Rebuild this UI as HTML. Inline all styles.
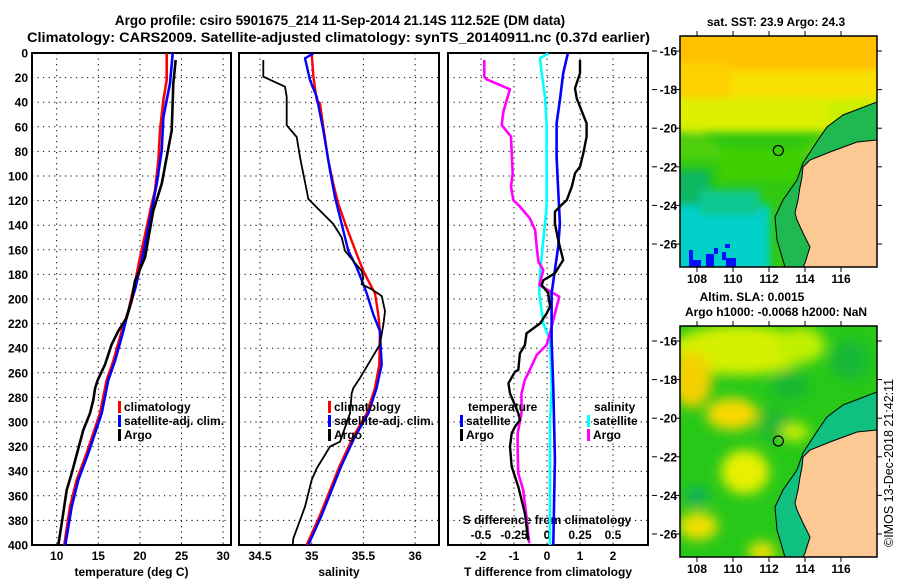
<!DOCTYPE html>
<html><head><meta charset="utf-8"><style>
html,body{margin:0;padding:0;background:#fff;}
svg{display:block;font-family:"Liberation Sans",Arial,sans-serif;}
.t{font-weight:bold;font-size:12px;fill:#000;}
.ti{font-weight:bold;font-size:13.5px;fill:#000;}
</style></head><body>
<svg id="chart" width="900" height="580" viewBox="0 0 900 580" xmlns="http://www.w3.org/2000/svg">
<defs>
<filter id="bl" x="-20%" y="-20%" width="140%" height="140%"><feGaussianBlur stdDeviation="6"/></filter>
<filter id="bl2" x="-20%" y="-20%" width="140%" height="140%"><feGaussianBlur stdDeviation="4"/></filter>
<clipPath id="cm1"><rect x="680" y="36" width="197" height="231"/></clipPath>
<clipPath id="cm2"><rect x="680" y="326" width="197" height="231"/></clipPath>
</defs>
<text class="ti" x="340" y="25" text-anchor="middle">Argo profile: csiro 5901675_214 11-Sep-2014 21.14S 112.52E (DM data)</text>
<text class="ti" x="27" y="42" textLength="623" lengthAdjust="spacingAndGlyphs">Climatology: CARS2009. Satellite-adjusted climatology: synTS_20140911.nc (0.37d earlier)</text>

<!-- top map -->
<g>
<g clip-path="url(#cm1)">
<rect x="680" y="36" width="197" height="231" fill="#30c810"/>
<g filter="url(#bl2)">
<rect x="670" y="26" width="220" height="50" fill="#ffc000"/>
<rect x="670" y="70" width="220" height="30" fill="#f8e000"/>
<rect x="670" y="62" width="60" height="40" fill="#ffd000"/>
<rect x="670" y="98" width="220" height="34" fill="#dcf000"/>
<polygon points="670,130 700,132 720,148 760,152 800,150 830,130 890,110 890,160 670,160" fill="#50d010"/>
<rect x="720" y="150" width="80" height="30" fill="#40d000"/>
<rect x="670" y="170" width="40" height="40" fill="#10b860"/>
<rect x="670" y="205" width="100" height="70" fill="#00d0c8"/>
<rect x="700" y="190" width="60" height="25" fill="#10c890"/>
<rect x="830" y="100" width="60" height="35" fill="#c8f000"/>
</g>
<rect x="689" y="250" width="4" height="17" fill="#0010ff"/>
<rect x="689" y="260" width="12" height="7" fill="#0010ff"/>
<rect x="706" y="254" width="8" height="13" fill="#0010ff"/>
<rect x="714" y="248" width="4" height="6" fill="#0010ff"/>
<rect x="725" y="244" width="5" height="4" fill="#0010ff"/>
<rect x="722" y="252" width="4" height="8" fill="#0010ff"/>
<rect x="726" y="258" width="10" height="9" fill="#0010ff"/>
<polygon points="877,102 843,115 827,127 818,140 803,163 797,180 783,200 775,217 777,240 785,267 803,267 805,263 810,247 803,233 797,220 795,213 798,200 800,187 802,177 803,167 810,160 830,152 857,142 877,140" fill="#20b850"/>
<polygon points="877,140 857,142 830,152 810,160 803,167 802,177 800,187 798,200 795,213 797,220 803,233 810,247 805,263 803,267 877,267" fill="#fcc894" stroke="#000" stroke-width="1"/>
<polyline points="877,102 843,115 827,127 818,140 803,163 797,180 783,200 775,217 777,240 785,267" fill="none" stroke="#000" stroke-width="1"/>
</g>
<rect x="680" y="36" width="197" height="231" fill="none" stroke="#000" stroke-width="1.5"/>
<circle cx="778.3" cy="150.5" r="5" fill="none" stroke="#000" stroke-width="1.2"/>
</g>
<text class="t" x="776" y="26" text-anchor="middle">sat. SST: 23.9 Argo: 24.3</text>

<!-- bottom map -->
<g>
<g clip-path="url(#cm2)">
<rect x="680" y="326" width="197" height="231" fill="#28c818"/>
<g filter="url(#bl)">
<ellipse cx="740" cy="350" rx="70" ry="25" fill="#d4f000"/>
<ellipse cx="800" cy="345" rx="25" ry="18" fill="#c0f000"/>
<ellipse cx="692" cy="380" rx="20" ry="28" fill="#f4d000"/>
<ellipse cx="732" cy="414" rx="26" ry="16" fill="#f8d800"/>
<ellipse cx="775" cy="425" rx="16" ry="18" fill="#20b830"/>
<ellipse cx="795" cy="432" rx="14" ry="9" fill="#c8f000"/>
<ellipse cx="745" cy="472" rx="24" ry="22" fill="#e8f000"/>
<ellipse cx="698" cy="526" rx="20" ry="14" fill="#f0e000"/>
<ellipse cx="762" cy="552" rx="14" ry="10" fill="#f0e000"/>
<ellipse cx="697" cy="496" rx="12" ry="9" fill="#10b060"/>
<ellipse cx="850" cy="360" rx="20" ry="20" fill="#18b838"/>
<ellipse cx="790" cy="385" rx="20" ry="14" fill="#18b830"/>
</g>
<polygon points="877,392 843,405 827,417 818,430 803,453 797,470 783,490 775,507 777,530 785,557 803,557 805,553 810,537 803,523 797,510 795,503 798,490 800,477 802,467 803,457 810,450 830,442 857,432 877,430" fill="#10c080"/>
<polygon points="877,430 857,432 830,442 810,450 803,457 802,467 800,477 798,490 795,503 797,510 803,523 810,537 805,553 803,557 877,557" fill="#fcc894" stroke="#000" stroke-width="1"/>
<polyline points="877,392 843,405 827,417 818,430 803,453 797,470 783,490 775,507 777,530 785,557" fill="none" stroke="#000" stroke-width="1"/>
</g>
<rect x="680" y="326" width="197" height="231" fill="none" stroke="#000" stroke-width="1.5"/>
<circle cx="778.3" cy="441" r="5" fill="none" stroke="#000" stroke-width="1.2"/>
</g>
<text class="t" x="752" y="301" text-anchor="middle">Altim. SLA: 0.0015</text>
<text class="t" x="776" y="316" text-anchor="middle">Argo h1000: -0.0068 h2000: NaN</text>
<text x="0" y="0" font-size="12.5" transform="translate(893,547) rotate(-90)">©IMOS 13-Dec-2018 21:42:11</text>
<g id="dyn"></g>
</svg>
<script>
// ---- data ----
const depthTicks = [0,20,40,60,80,100,120,140,160,180,200,220,240,260,280,300,320,340,360,380,400];
const tempTicks = [10,15,20,25,30];
const salTicks = [34.5,35,35.5,36];
const salTickLabels = ["34.5","35","35.5","36"];
const dTTicks = [-2,-1,0,1,2];
const dSTicks = [-0.5,-0.25,0,0.25,0.5];
const dSTickLabels = ["-0.5","-0.25","0","0.25","0.5"];
const lonTicks = [108,110,112,114,116];
const latTicks = [-16,-18,-20,-22,-24,-26];

const tempClimD = [0.3,22,38.4,62.9,87.3,111.8,122.7,141.8,166.3,182.6,192.1,209.8,226.1,250.6,265.9,292.9,325.4,347.1,368.9,400];
const tempClimV = [23.22,23.22,22.82,22.42,22.22,21.82,21.42,20.82,20.01,19.53,19.21,18.6,17.81,16.8,16.01,15.2,13.6,12.4,11.6,10.91];
const tempSatD = [0.3,24.7,52,79.2,106.4,141.8,169,192.1,209.8,226.1,250.6,265.9,292.9,325.4,347.1,368.9,400];
const tempSatV = [23.94,23.62,22.82,22.62,22.02,21.02,20.22,19.41,18.6,18.0,17.0,16.2,15.41,13.8,12.6,11.8,11.03];
const tempArgoD = [5.7,24.7,62.9,84.6,106.4,128.2,166.3,185.3,201.6,215.3,226.1,237,253.3,265.9,272.4,282.1,292.9,306.5,341.7,355.3,382.4,400];
const tempArgoV = [24.30,24.02,23.82,23.22,22.62,21.61,20.61,19.41,19.0,18.4,17.4,16.6,15.8,14.93,14.61,14.4,14.0,13.2,11.8,11.2,10.6,10.19];

const salClimD = [0.3,19.3,38.4,41.1,60.1,87.3,106.4,122.7,141.8,163.5,177.1,185.3,195.4,212.5,226.1,253.3,272.4,292.9,311.9,335,375.8,400];
const salClimV = [35.0,35.016,35.048,35.08,35.112,35.161,35.209,35.257,35.338,35.435,35.499,35.548,35.612,35.644,35.66,35.654,35.612,35.532,35.402,35.274,35.08,34.952];
const salSatD = [0.3,4.3,22,35.6,62.9,95.5,117.3,139,160.8,174.4,188,195.4,212.5,226.1,253.3,272.4,292.9,311.9,335,375.8,400];
const salSatV = [35.016,34.935,34.984,35.048,35.112,35.177,35.225,35.29,35.354,35.435,35.499,35.532,35.596,35.66,35.677,35.628,35.548,35.419,35.29,35.097,34.967];
const salArgoD = [5.7,19.3,27.4,35.6,58.8,68.3,84.6,98.2,111.8,118.6,125.5,139,150,160.8,169,177.1,182.6,188,192.1,197.6,209.8,220.7,237,250.6,264.2,272.4,276.7,292.9,316,320,337.7,347.1,368.9,394.8,400];
const salArgoV = [34.532,34.532,34.742,34.758,34.758,34.855,34.887,34.919,34.952,34.967,35.048,35.209,35.29,35.322,35.402,35.483,35.499,35.483,35.58,35.677,35.709,35.693,35.66,35.564,35.467,35.402,35.387,35.37,35.274,35.177,35.048,35.0,34.935,34.822,34.816];

const dTSatD = [0.3,16.5,38.2,57.2,84.3,111.4,138.5,157.5,176.4,195.4,233.3,272.6,330,400];
const dTSatV = [0.63,0.49,0.39,0.29,0.29,0.34,0.39,0.34,0.24,0.14,0.14,0.19,0.24,0.19];
const dTArgoD = [5.7,16.5,28.7,36.8,57.2,68,81.6,92.4,97.8,108.7,119.5,123.6,129,138.5,152,168.3,179.1,184.6,188.6,195.4,206.3,211.6,219.8,228,237.4,244.2,257.7,259.1,268.5,276.7,292.9,298.4,303.8,309.2,320,336.3,352.6,374.3,396];
const dTArgoV = [1.0,1.0,0.85,0.90,1.20,1.20,1.10,1.0,0.85,0.75,0.60,0.44,0.24,0.24,0.34,0.49,0.24,-0.11,-0.16,0.04,0.09,-0.01,-0.21,-0.62,-0.67,-0.82,-0.87,-0.97,-1.17,-1.12,-0.87,-0.82,-0.97,-1.07,-1.12,-1.07,-0.87,-0.67,-0.57];
const dSSatD = [0.3,4.3,16.5,35.6,57.2,97.8,124.9,152,179.1,195.4,219.8,233.3,272.6,300,400];
const dSSatV = [0.01,-0.053,-0.04,-0.015,-0.003,-0.003,-0.003,-0.028,-0.053,-0.058,-0.028,0.023,0.035,0.023,0.023];
const dSArgoD = [5.7,19.2,21.4,29.5,38.2,47.7,58.5,68,78.9,97.8,108.7,119.5,124.9,134.4,143.9,157.5,169.7,176.4,188.6,198.1,217,227.9,237.4,245.5,257.7,265.9,276.7,292.9,299.7,309.2,320,341.7,355.3,377,398.6];
const dSArgoV = [-0.475,-0.475,-0.458,-0.28,-0.305,-0.33,-0.343,-0.273,-0.268,-0.26,-0.273,-0.255,-0.205,-0.13,-0.09,-0.078,-0.065,-0.028,-0.058,0.093,0.048,0.023,-0.003,-0.078,-0.13,-0.168,-0.193,-0.193,-0.205,-0.223,-0.223,-0.218,-0.18,-0.155,-0.135];

// ---- scales ----
const Y0 = 53, Y1 = 545;
const yD = d => Y0 + d * (Y1 - Y0) / 400;
const xT = t => 56.7 + (t - 10) * 8.32;
const xS = s => 311.7 + (s - 35) * 103.4;
const xdT = t => 547 + t * 33;
const xdS = s => 547 + s * 132;
const mapX = lon => 697 + (lon - 108) * 18;
const mapY1 = lat => 51 + (-16 - lat) * 19.3;

const NS = "http://www.w3.org/2000/svg";
const root = document.getElementById("dyn");
function mk(tag, attrs, parent) {
  const e = document.createElementNS(NS, tag);
  for (const k in attrs) e.setAttribute(k, attrs[k]);
  (parent || root).appendChild(e);
  return e;
}
function txt(s, x, y, anchor, parent) {
  const e = mk("text", {x: x, y: y, "text-anchor": anchor || "middle", class: "t"}, parent);
  e.textContent = s;
  return e;
}

const panels = [
  {name: "temperature", x0: 32, x1: 231, gx: tempTicks.map(xT), lab: tempTicks.map(String), title: "temperature (deg C)"},
  {name: "salinity", x0: 239, x1: 439, gx: salTicks.map(xS), lab: salTickLabels, title: "salinity"},
  {name: "difference", x0: 448, x1: 648, gx: dTTicks.map(xdT), lab: dTTicks.map(String), title: "T difference from climatology"}
];

panels.forEach(p => {
  const g = mk("g", {});
  
  
  depthTicks.forEach((d, i) => {
    if (i > 0 && i < depthTicks.length - 1) {
      const l = mk("line", {x1: p.x0, x2: p.x1, y1: yD(d), y2: yD(d), stroke: "#000", "stroke-width": 1, "stroke-dasharray": "1.2,4.3"}, g);
      
      
    }
  });
  p.gx.forEach((x, i) => {
    const l = mk("line", {x1: x, x2: x, y1: Y0, y2: Y1, stroke: "#000", "stroke-width": 1, "stroke-dasharray": "1.2,4.3"}, g);
    
    
    const t = txt(p.lab[i], x, 560, "middle", g);
    
    
  });
  const fr = mk("rect", {x: p.x0, y: Y0, width: p.x1 - p.x0, height: Y1 - Y0, fill: "none", stroke: "#000", "stroke-width": 2}, g);
  
  
  const at = txt(p.title, (p.x0 + p.x1) / 2 + (p.name === "temperature" ? 0 : 0), 576, "middle", g);
  
  
});

depthTicks.forEach(d => {
  const t = txt(String(d), 28, yD(d) + 4.5, "end");
  
  
});

// S difference axis inside panel 3
dSTicks.forEach((s, i) => {
  const t = txt(dSTickLabels[i], xdS(s), 539, "middle");
  
  
});
const sdt = txt("S difference from climatology", 547, 524, "middle");



function series(D, V, xf, color, w, name) {
  const pts = D.map((d, i) => xf(V[i]).toFixed(1) + "," + yD(d).toFixed(1)).join(" ");
  const l = mk("polyline", {points: pts, fill: "none", stroke: color, "stroke-width": w, "stroke-linejoin": "round"});
  
  
}
series(tempClimD, tempClimV, xT, "#ff0000", 2.6, "temp-climatology-line");
series(tempSatD, tempSatV, xT, "#0000ff", 2.6, "temp-satellite-line");
series(tempArgoD, tempArgoV, xT, "#000", 2.6, "temp-argo-line");
series(salClimD, salClimV, xS, "#ff0000", 2.4, "sal-climatology-line");
series(salSatD, salSatV, xS, "#0000ff", 2.4, "sal-satellite-line");
series(salArgoD, salArgoV, xS, "#000", 1.8, "sal-argo-line");
series(dSSatD, dSSatV, xdS, "#00ffff", 2.6, "sdiff-satellite-line");
series(dSArgoD, dSArgoV, xdS, "#ff00ff", 2.6, "sdiff-argo-line");
series(dTSatD, dTSatV, xdT, "#0000ff", 2.6, "tdiff-satellite-line");
series(dTArgoD, dTArgoV, xdT, "#000", 2.4, "tdiff-argo-line");

function legend(x, y, color, label, name) {
  const g = mk("g", {});
  
  
  if (color) mk("rect", {x: x, y: y - 10, width: 3, height: 12, fill: color}, g);
  const t = txt(label, x + 6, y, "start", g);
}
legend(118, 411, "#ff0000", "climatology", "legend-entry-climatology");
legend(118, 425, "#0000ff", "satellite-adj. clim.", "legend-entry-satellite-adj");
legend(118, 439, "#000", "Argo", "legend-entry-argo");
legend(328, 411, "#ff0000", "climatology", "legend-entry-climatology-sal");
legend(328, 425, "#0000ff", "satellite-adj. clim.", "legend-entry-satellite-adj-sal");
legend(328, 439, "#000", "Argo", "legend-entry-argo-sal");
legend(462, 411, null, "temperature", "legend-header-temperature");
legend(460, 425, "#0000ff", "satellite", "legend-entry-t-satellite");
legend(460, 439, "#000", "Argo", "legend-entry-t-argo");
legend(588, 411, null, "salinity", "legend-header-salinity");
legend(587, 425, "#00ffff", "satellite", "legend-entry-s-satellite");
legend(587, 439, "#ff00ff", "Argo", "legend-entry-s-argo");

// map axes
[0, 290].forEach(off => {
  lonTicks.forEach(lon => {
    const x = mapX(lon);
    mk("line", {x1: x, x2: x, y1: 36 + off, y2: 31 + off, stroke: "#000", "stroke-width": 1});
    mk("line", {x1: x, x2: x, y1: 267 + off, y2: 272 + off, stroke: "#000", "stroke-width": 1});
    const t = txt(String(lon), x, 283 + off, "middle");
    
    
  });
  latTicks.forEach(lat => {
    const y = mapY1(lat) + off;
    mk("line", {x1: 680, x2: 675, y1: y, y2: y, stroke: "#000", "stroke-width": 1});
    mk("line", {x1: 877, x2: 882, y1: y, y2: y, stroke: "#000", "stroke-width": 1});
    mk("line", {x1: 652, x2: 657, y1: y, y2: y, stroke: "#000", "stroke-width": 1});
    const t = txt(String(lat), 677, y + 4.5, "end");
    
    
  });
});
</script>
</body></html>
